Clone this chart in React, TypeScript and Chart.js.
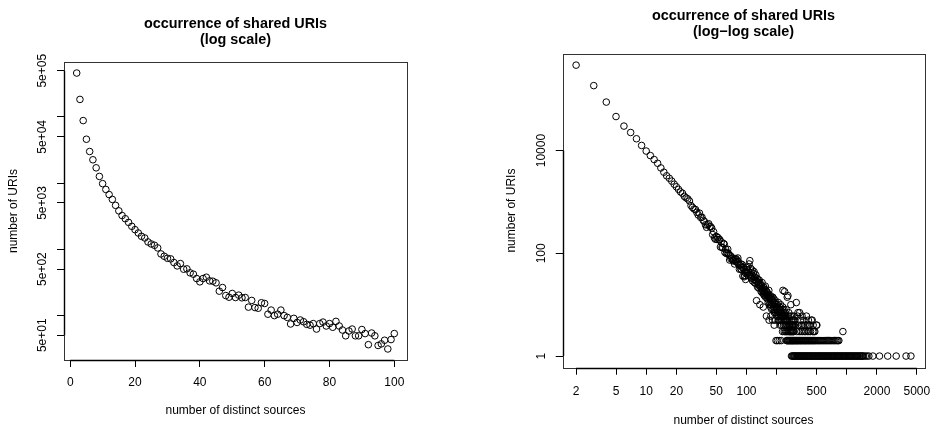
import { useEffect, useRef } from "react";
import { Chart, registerables } from "chart.js";

Chart.register(...registerables);

const FONT = "'Liberation Sans', Arial, Helvetica, sans-serif";

// number of URIs shared by exactly n distinct sources, n = 2 .. 100
const FIRST_SOURCE = 2;
const uriCounts = [
  461000, 184000, 88000, 46000, 30000, 22500, 17000, 12600, 9800,
  8000, 6700, 5660, 4600, 3800, 3230, 2890, 2545, 2218, 1974,
  1758, 1566, 1478, 1286, 1200, 1146, 1045, 848, 782, 729,
  713, 628, 559, 606, 498, 504, 439, 419, 360, 321,
  360, 377, 332, 328, 310, 232, 263, 199, 188, 214,
  186, 202, 184, 186, 133, 168, 131, 128, 155, 151,
  104, 120, 99, 104, 120, 99, 93, 74, 90, 78,
  85, 80, 73, 71, 75, 62, 75, 79, 69, 75,
  66, 81, 69, 60, 49, 58, 62, 49, 49, 61,
  53, 36, 54, 49, 35, 37, 42, 31, 43, 53,
];

// n = 101 .. 200
const MID_FIRST_SOURCE = 101;
const midUriCounts = [
  48, 41, 55, 37, 44, 62, 39, 72, 35, 51,
  42, 33, 38, 47, 29, 36, 41, 31, 44, 27,
  34, 30, 26, 38, 29, 12, 33, 28, 22, 31,
  25, 27, 21, 30, 23, 10, 26, 22, 24, 18,
  23, 20, 27, 17, 21, 19, 9, 16, 22, 18,
  15, 20, 17, 23, 14, 19, 16, 6, 18, 15,
  13, 17, 14, 16, 11, 15, 19, 5, 14, 10,
  13, 11, 15, 9, 6, 14, 10, 13, 8, 11,
  12, 5, 14, 10, 8, 11, 13, 9, 4, 7,
  11, 8, 5, 12, 7, 9, 2, 10, 8, 9,
];

// sparse tail (n > 200, three or more URIs)
const tailSources = [
  201, 202, 204, 205, 206, 207, 208, 209, 210, 211,
  213, 214, 215, 216, 217, 218, 219, 220, 221, 223,
  224, 225, 226, 227, 228, 229, 230, 231, 232, 233,
  234, 235, 236, 237, 238, 239, 240, 241, 242, 243,
  244, 245, 246, 247, 248, 249, 250, 252, 253, 255,
  256, 257, 259, 260, 262, 263, 264, 266, 267, 269,
  270, 271, 273, 274, 275, 277, 278, 280, 281, 282,
  284, 285, 286, 288, 289, 291, 292, 293, 295, 296,
  297, 299, 300, 304, 309, 314, 318, 322, 326, 331,
  335, 339, 344, 349, 353, 358, 363, 368, 373, 378,
  384, 390, 396, 402, 408, 414, 418, 421, 428, 435,
  443, 452, 458, 462, 470, 480, 498, 503, 915,
];
const tailUriCounts = [
  8, 6, 10, 7, 9, 5, 11, 7, 6, 8,
  5, 9, 7, 4, 8, 6, 10, 5, 7, 6,
  4, 7, 5, 8, 6, 3, 9, 19, 5, 6,
  4, 7, 5, 8, 3, 6, 18, 5, 4, 7,
  5, 3, 6, 4, 5, 8, 3, 5, 4, 14,
  3, 5, 15, 6, 3, 4, 7, 4, 3, 5,
  4, 3, 6, 3, 4, 10, 3, 5, 4, 3,
  6, 4, 3, 5, 4, 3, 4, 3, 5, 4,
  3, 6, 4, 5, 4, 11, 3, 6, 7, 4,
  3, 7, 5, 3, 4, 6, 3, 4, 5, 3,
  4, 3, 6, 4, 3, 5, 4, 3, 4, 3,
  5, 5, 3, 4, 3, 3, 4, 4, 3,
];

// numbers of sources shared by exactly two URIs
const doubleSources = [
  203, 212, 222, 251, 254, 258, 261, 265, 268, 272, 276, 279, 283, 287, 290,
  294, 298, 302, 307, 311, 316, 320, 325, 330, 336, 341, 347, 352, 357, 364,
  371, 377, 383, 389, 395, 403, 410, 417, 425, 432, 440, 448, 456, 465, 474,
  483, 493, 505, 516, 527, 540, 552, 566, 580, 594, 609, 625, 641, 658, 676,
  694, 712, 733, 752, 774, 797, 816, 834,
];

// numbers of sources reached by a single URI
const singleSources = [
  281, 286, 292, 297, 301, 306, 312, 317, 323, 329, 334, 340, 346, 353, 359,
  366, 373, 379, 386, 394, 401, 409, 416, 424, 432, 440, 449, 457, 466, 475,
  484, 493, 502, 512, 522, 531, 542, 552, 563, 574, 585, 596, 607, 619, 631,
  643, 656, 668, 681, 695, 708, 722, 736, 750, 765, 780, 795, 811, 826, 843,
  859, 876, 893, 911, 929, 947, 966, 985, 1004, 1024, 1045, 1066, 1087, 1109,
  1131, 1154, 1178, 1202, 1226, 1250, 1276, 1302, 1329, 1356, 1384, 1412,
  1440, 1470, 1530, 1590, 1660, 1820, 2120, 2560, 3110, 3900, 4360,
];

const leftXTicks = [0, 20, 40, 60, 80, 100];
const leftXLabels = ["0", "20", "40", "60", "80", "100"];
const leftYTicks = [5e5, 1e5, 5e4, 1e4, 5e3, 1e3, 5e2, 1e2, 5e1];
const leftYLabels = ["5e+05", "", "5e+04", "", "5e+03", "", "5e+02", "", "5e+01"];
const rightXTicks = [2, 5, 10, 20, 50, 100, 200, 500, 1000, 2000, 5000];
const rightXLabels = ["2", "5", "10", "20", "50", "100", "", "500", "", "2000", "5000"];
const rightYTicks = [1, 100, 10000];
const rightYLabels = ["1", "100", "10000"];

const titleMain = "occurrence of shared URIs";
const xTitle = "number of distinct sources";
const yTitle = "number of URIs";

type Pt = { x: number; y: number };

const basePoints: Pt[] = uriCounts.map((y, i) => ({ x: FIRST_SOURCE + i, y }));
const midPoints: Pt[] = midUriCounts.map((y, i) => ({ x: MID_FIRST_SOURCE + i, y }));
const tailPoints: Pt[] = tailSources.map((x, i) => ({ x, y: tailUriCounts[i] }));
const doublePoints: Pt[] = doubleSources.map((x) => ({ x, y: 2 }));
const singlePoints: Pt[] = singleSources.map((x) => ({ x, y: 1 }));
const allPoints: Pt[] = [...basePoints, ...midPoints, ...tailPoints, ...doublePoints, ...singlePoints];

// R-style 4% axis extension
function linRange(vals: number[]) {
  const lo = Math.min(...vals), hi = Math.max(...vals);
  const d = (hi - lo) * 0.04;
  return [lo - d, hi + d];
}
function logRange(vals: number[]) {
  const lo = Math.log10(Math.min(...vals)), hi = Math.log10(Math.max(...vals));
  const d = (hi - lo) * 0.04;
  return [Math.pow(10, lo - d), Math.pow(10, hi + d)];
}

type Geom = {
  points: Pt[];
  sub: string;
  xType: "linear" | "logarithmic";
  xRange: number[];
  yRange: number[];
  xTicks: number[];
  xLabels: string[];
  yTicks: number[];
  yLabels: string[];
  padding: { left: number; right: number; top: number; bottom: number };
  xHeight: number;
  xLabelPad: number;
  xTitlePad: number;
  yTitlePad: number;
};

const leftGeom: Geom = {
  points: basePoints,
  sub: "(log scale)",
  xType: "linear",
  xRange: linRange(basePoints.map((p) => p.x)),
  yRange: logRange(basePoints.map((p) => p.y)),
  xTicks: leftXTicks,
  xLabels: leftXLabels,
  yTicks: leftYTicks,
  yLabels: leftYLabels,
  padding: { left: 0, right: 59, top: 16.5, bottom: 0 },
  xHeight: 67,
  xLabelPad: 8.8,
  xTitlePad: 8.8,
  yTitlePad: 6.9,
};

const rightGeom: Geom = {
  points: allPoints,
  sub: "(log\u2212log scale)",
  xType: "logarithmic",
  xRange: logRange(allPoints.map((p) => p.x)),
  yRange: logRange(allPoints.map((p) => p.y)),
  xTicks: rightXTicks,
  xLabels: rightXLabels,
  yTicks: rightYTicks,
  yLabels: rightYLabels,
  padding: { left: 32.7, right: 7.7, top: 8, bottom: 0 },
  xHeight: 59.3,
  xLabelPad: 9.8,
  xTitlePad: -1,
  yTitlePad: 5.9,
};

const framePlugin = {
  id: "rframe",
  afterDraw(chart: any) {
    const { ctx, chartArea: a } = chart;
    const g: Geom = chart.options.plugins.rframe.geom;
    const xs = chart.scales.x;
    const ys = chart.scales.y;
    ctx.save();
    ctx.strokeStyle = "#333";
    ctx.lineWidth = 1;
    ctx.strokeRect(Math.round(a.left) + 0.5, Math.round(a.top) + 0.5, Math.round(a.right - a.left), Math.round(a.bottom - a.top));
    ctx.strokeStyle = "#000";
    ctx.lineWidth = 1.4;
    ctx.beginPath();
    const x0 = xs.getPixelForValue(g.xTicks[0]);
    const x1 = xs.getPixelForValue(g.xTicks[g.xTicks.length - 1]);
    ctx.moveTo(x0, Math.round(a.bottom) + 0.5);
    ctx.lineTo(x1, Math.round(a.bottom) + 0.5);
    const y0 = ys.getPixelForValue(g.yTicks[0]);
    const y1 = ys.getPixelForValue(g.yTicks[g.yTicks.length - 1]);
    ctx.moveTo(Math.round(a.left) + 0.5, y0);
    ctx.lineTo(Math.round(a.left) + 0.5, y1);
    ctx.stroke();
    ctx.restore();
  },
};

function buildConfig(g: Geom): any {
  const tickFont = { family: FONT, size: 12 };
  const grid = {
    display: true,
    drawOnChartArea: false,
    drawTicks: true,
    tickLength: 7,
    color: "#000",
    lineWidth: 1,
  };
  return {
    type: "scatter",
    data: {
      datasets: [
        {
          data: g.points,
          showLine: false,
          pointStyle: "circle",
          pointRadius: 3.3,
          pointHoverRadius: 3.3,
          pointBorderWidth: 1,
          pointBorderColor: "#000",
          pointBackgroundColor: "rgba(0,0,0,0)",
        },
      ],
    },
    options: {
      animation: false,
      responsive: false,
      events: [],
      layout: { padding: g.padding },
      plugins: {
        legend: { display: false },
        tooltip: { enabled: false },
        rframe: { geom: g },
        title: {
          display: true,
          fullSize: false,
          text: [titleMain, g.sub],
          color: "#000",
          font: { family: FONT, size: 14.4, weight: "bold", lineHeight: 16 / 14.4 },
          padding: { top: 0, bottom: 13.5 },
        },
      },
      scales: {
        x: {
          type: g.xType,
          position: "bottom",
          min: g.xRange[0],
          max: g.xRange[1],
          bounds: "data",
          afterBuildTicks: (s: any) => {
            s.ticks = g.xTicks.map((v) => ({ value: v }));
          },
          afterFit: (s: any) => {
            s.height = g.xHeight;
            s.paddingLeft = 0;
            s.paddingRight = 0;
            s.paddingTop = 0;
            s.paddingBottom = 0;
          },
          ticks: {
            autoSkip: false,
            minRotation: 0,
            maxRotation: 0,
            padding: g.xLabelPad,
            color: "#000",
            font: tickFont,
            callback: (_v: any, i: number) => g.xLabels[i],
          },
          grid,
          border: { display: false },
          title: {
            display: true,
            text: xTitle,
            color: "#000",
            font: { family: FONT, size: 12 },
            padding: { top: 0, bottom: g.xTitlePad },
          },
        },
        y: {
          type: "logarithmic",
          position: "left",
          min: g.yRange[0],
          max: g.yRange[1],
          bounds: "data",
          afterBuildTicks: (s: any) => {
            s.ticks = g.yTicks.map((v) => ({ value: v }));
          },
          afterFit: (s: any) => {
            s.width = 64;
            s.paddingLeft = 0;
            s.paddingRight = 0;
            s.paddingTop = 0;
            s.paddingBottom = 0;
          },
          ticks: {
            autoSkip: false,
            minRotation: 90,
            maxRotation: 90,
            crossAlign: "center",
            padding: -2.8,
            color: "#000",
            font: tickFont,
            callback: (_v: any, i: number) => g.yLabels[i],
          },
          grid,
          border: { display: false },
          title: {
            display: true,
            text: yTitle,
            color: "#000",
            font: { family: FONT, size: 12 },
            padding: { top: g.yTitlePad, bottom: 0 },
          },
        },
      },
    },
    plugins: [framePlugin],
  };
}

export default function App() {
  const leftRef = useRef<HTMLCanvasElement>(null);
  const rightRef = useRef<HTMLCanvasElement>(null);

  useEffect(() => {
    const c1 = new Chart(leftRef.current as HTMLCanvasElement, buildConfig(leftGeom));
    const c2 = new Chart(rightRef.current as HTMLCanvasElement, buildConfig(rightGeom));
    return () => {
      c1.destroy();
      c2.destroy();
    };
  }, []);

  return (
    <div
      style={{
        position: "absolute",
        left: 0,
        top: 0,
        width: 932,
        height: 427,
        background: "#fff",
        overflow: "hidden",
      }}
    >
      <canvas
        ref={leftRef}
        width={466}
        height={427}
        style={{ position: "absolute", left: 0, top: 0, width: 466, height: 427 }}
      />
      <canvas
        ref={rightRef}
        width={466}
        height={427}
        style={{ position: "absolute", left: 466, top: 0, width: 466, height: 427 }}
      />
    </div>
  );
}
